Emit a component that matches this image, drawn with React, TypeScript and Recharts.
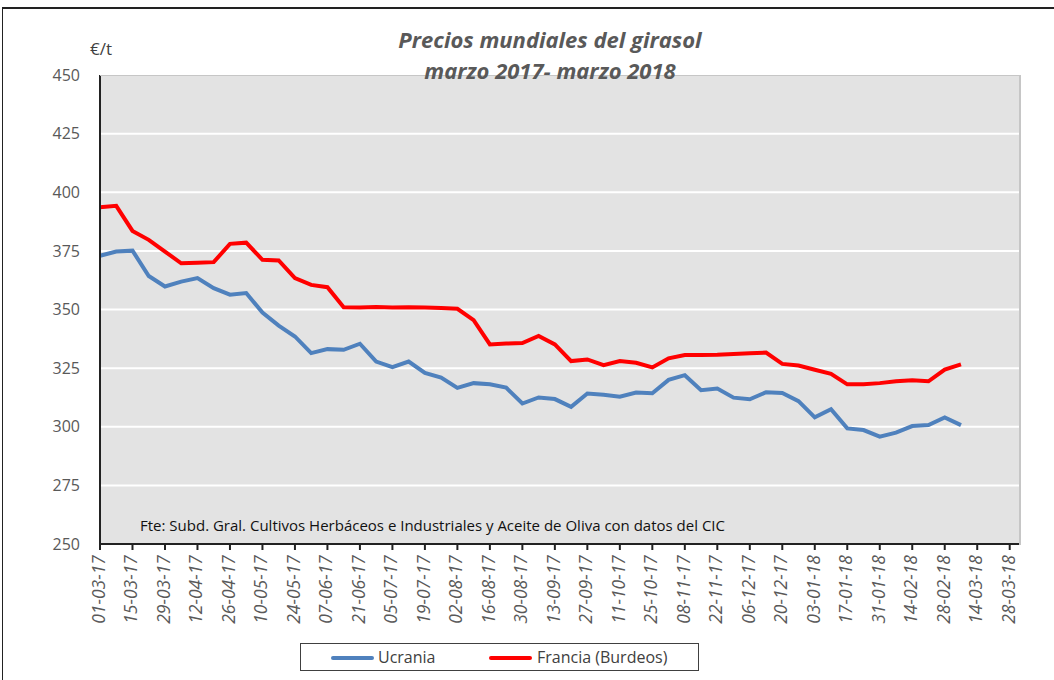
import React from 'react'
import { LineChart, Line, XAxis, YAxis, CartesianGrid } from 'recharts'

const WIDTH = 1054
const HEIGHT = 680

// fechas de los ticks del eje X (cada dos semanas desde 01-03-17)
const tickLabels = [
  '01-03-17', '15-03-17', '29-03-17', '12-04-17', '26-04-17', '10-05-17',
  '24-05-17', '07-06-17', '21-06-17', '05-07-17', '19-07-17', '02-08-17',
  '16-08-17', '30-08-17', '13-09-17', '27-09-17', '11-10-17', '25-10-17',
  '08-11-17', '22-11-17', '06-12-17', '20-12-17', '03-01-18', '17-01-18',
  '31-01-18', '14-02-18', '28-02-18', '14-03-18', '28-03-18',
]

// precios semanales, €/t
const ucrania = [
  372.9, 374.7, 375.1, 364.3, 359.8, 361.9, 363.4, 359.1, 356.3, 357,
  348.7, 343.1, 338.5, 331.4, 333.1, 332.8, 335.4, 327.8, 325.4, 327.8,
  323, 321, 316.6, 318.6, 318.1, 316.7, 309.9, 312.5, 311.8, 308.5,
  314.2, 313.6, 312.8, 314.6, 314.3, 320, 322, 315.6, 316.3, 312.4,
  311.7, 314.7, 314.4, 310.9, 304, 307.5, 299.3, 298.6, 295.8, 297.5,
  300.3, 300.7, 304, 300.7,
]

const francia = [
  393.6, 394.2, 383.5, 379.7, 374.7, 369.7, 369.9, 370.2, 378, 378.5,
  371.2, 370.9, 363.4, 360.5, 359.5, 351, 350.9, 351.1, 350.9, 351,
  350.9, 350.6, 350.3, 345.5, 335.1, 335.5, 335.7, 338.7, 335.1, 328,
  328.7, 326.3, 328, 327.3, 325.3, 329.2, 330.6, 330.6, 330.7, 331,
  331.3, 331.6, 326.8, 326.1, 324.3, 322.6, 318.1, 318.1, 318.6, 319.4,
  319.8, 319.4, 324.4, 326.6,
]

const yTicks = [250, 275, 300, 325, 350, 375, 400, 425, 450]

const data = ucrania.map((u, i) => ({
  day: i * 7,
  Ucrania: u,
  Francia: francia[i],
}))

const xTicks = tickLabels.map((_, i) => i * 14)

const FONT = '"Open Sans", sans-serif'

const DateTick = ({ x, y, payload }: any) => {
  const label = tickLabels[Math.round(payload.value / 14)]
  const tx = x + 5
  const ty = y + 3
  return (
    <text
      x={tx}
      y={ty}
      transform={`rotate(-90 ${tx} ${ty})`}
      textAnchor="end"
      fontSize={17.5}
      fontStyle="italic"
      fill="#595959"
      fontFamily={FONT}
    >
      {label}
    </text>
  )
}

const App = () => {
  return (
    <div
      style={{
        position: 'absolute',
        left: 0,
        top: 0,
        width: WIDTH,
        height: HEIGHT,
        background: '#fff',
        fontFamily: FONT,
      }}
    >
      <div
        style={{
          position: 'absolute',
          left: 2,
          top: 7,
          width: WIDTH,
          height: HEIGHT,
          borderLeft: '1px solid #222',
          borderTop: '2px solid #222',
        }}
      />
      <LineChart
        width={WIDTH}
        height={HEIGHT}
        data={data}
        margin={{ top: 75, right: 35, left: 0, bottom: 0 }}
      >
        <CartesianGrid
          vertical={false}
          stroke="#fff"
          strokeWidth={2}
          fill="#e3e3e3"
        />
        <XAxis
          dataKey="day"
          type="number"
          domain={[0, 396]}
          ticks={xTicks}
          interval={0}
          height={136}
          stroke="#222"
          strokeWidth={2}
          tickSize={6}
          tick={<DateTick />}
        />
        <YAxis
          domain={[250, 450]}
          ticks={yTicks}
          width={100}
          stroke="#222"
          strokeWidth={2}
          tickLine={false}
          tickSize={8}
          tickMargin={12}
          tick={{ fill: '#595959', fontSize: 16, fontFamily: FONT }}
        />
        <Line
          type="linear"
          dataKey="Ucrania"
          stroke="#4f81bd"
          strokeWidth={4}
          dot={false}
          isAnimationActive={false}
        />
        <Line
          type="linear"
          dataKey="Francia"
          stroke="#ff0000"
          strokeWidth={4}
          dot={false}
          isAnimationActive={false}
        />
      </LineChart>
      {/* borde del área de trazado */}
      <div
        style={{
          position: 'absolute',
          left: 100,
          top: 75,
          width: 919,
          height: 469,
          borderTop: '1px solid #c6c6c6',
          borderRight: '2px solid #c6c6c6',
          pointerEvents: 'none',
        }}
      />
      <div
        style={{
          position: 'absolute',
          left: 300,
          width: 500,
          top: 24,
          textAlign: 'center',
          color: '#595959',
          fontSize: 22,
          fontWeight: 700,
          fontStyle: 'italic',
          lineHeight: '31px',
        }}
      >
        Precios mundiales del girasol
        <br />
        marzo 2017- marzo 2018
      </div>
      <div
        style={{
          position: 'absolute',
          left: 90,
          top: 37,
          fontSize: 17,
          color: '#404040',
        }}
      >
        €/t
      </div>
      <div
        style={{
          position: 'absolute',
          left: 140,
          top: 515,
          fontSize: 15,
          color: '#111',
          whiteSpace: 'nowrap',
        }}
      >
        Fte: Subd. Gral. Cultivos Herbáceos e Industriales y Aceite de Oliva con datos del CIC
      </div>
      <div
        style={{
          position: 'absolute',
          left: 300,
          top: 643,
          width: 399,
          height: 28,
          border: '1px solid #404040',
          boxSizing: 'border-box',
          fontSize: 16,
          color: '#404040',
        }}
      >
        <div style={{ position: 'absolute', left: 30, top: 12, width: 43, height: 4, background: '#4f81bd', borderRadius: 2 }} />
        <div style={{ position: 'absolute', left: 77, top: 2 }}>Ucrania</div>
        <div style={{ position: 'absolute', left: 188, top: 12, width: 43, height: 4, background: '#ff0000', borderRadius: 2 }} />
        <div style={{ position: 'absolute', left: 236, top: 2 }}>Francia (Burdeos)</div>
      </div>
    </div>
  )
}

export default App
